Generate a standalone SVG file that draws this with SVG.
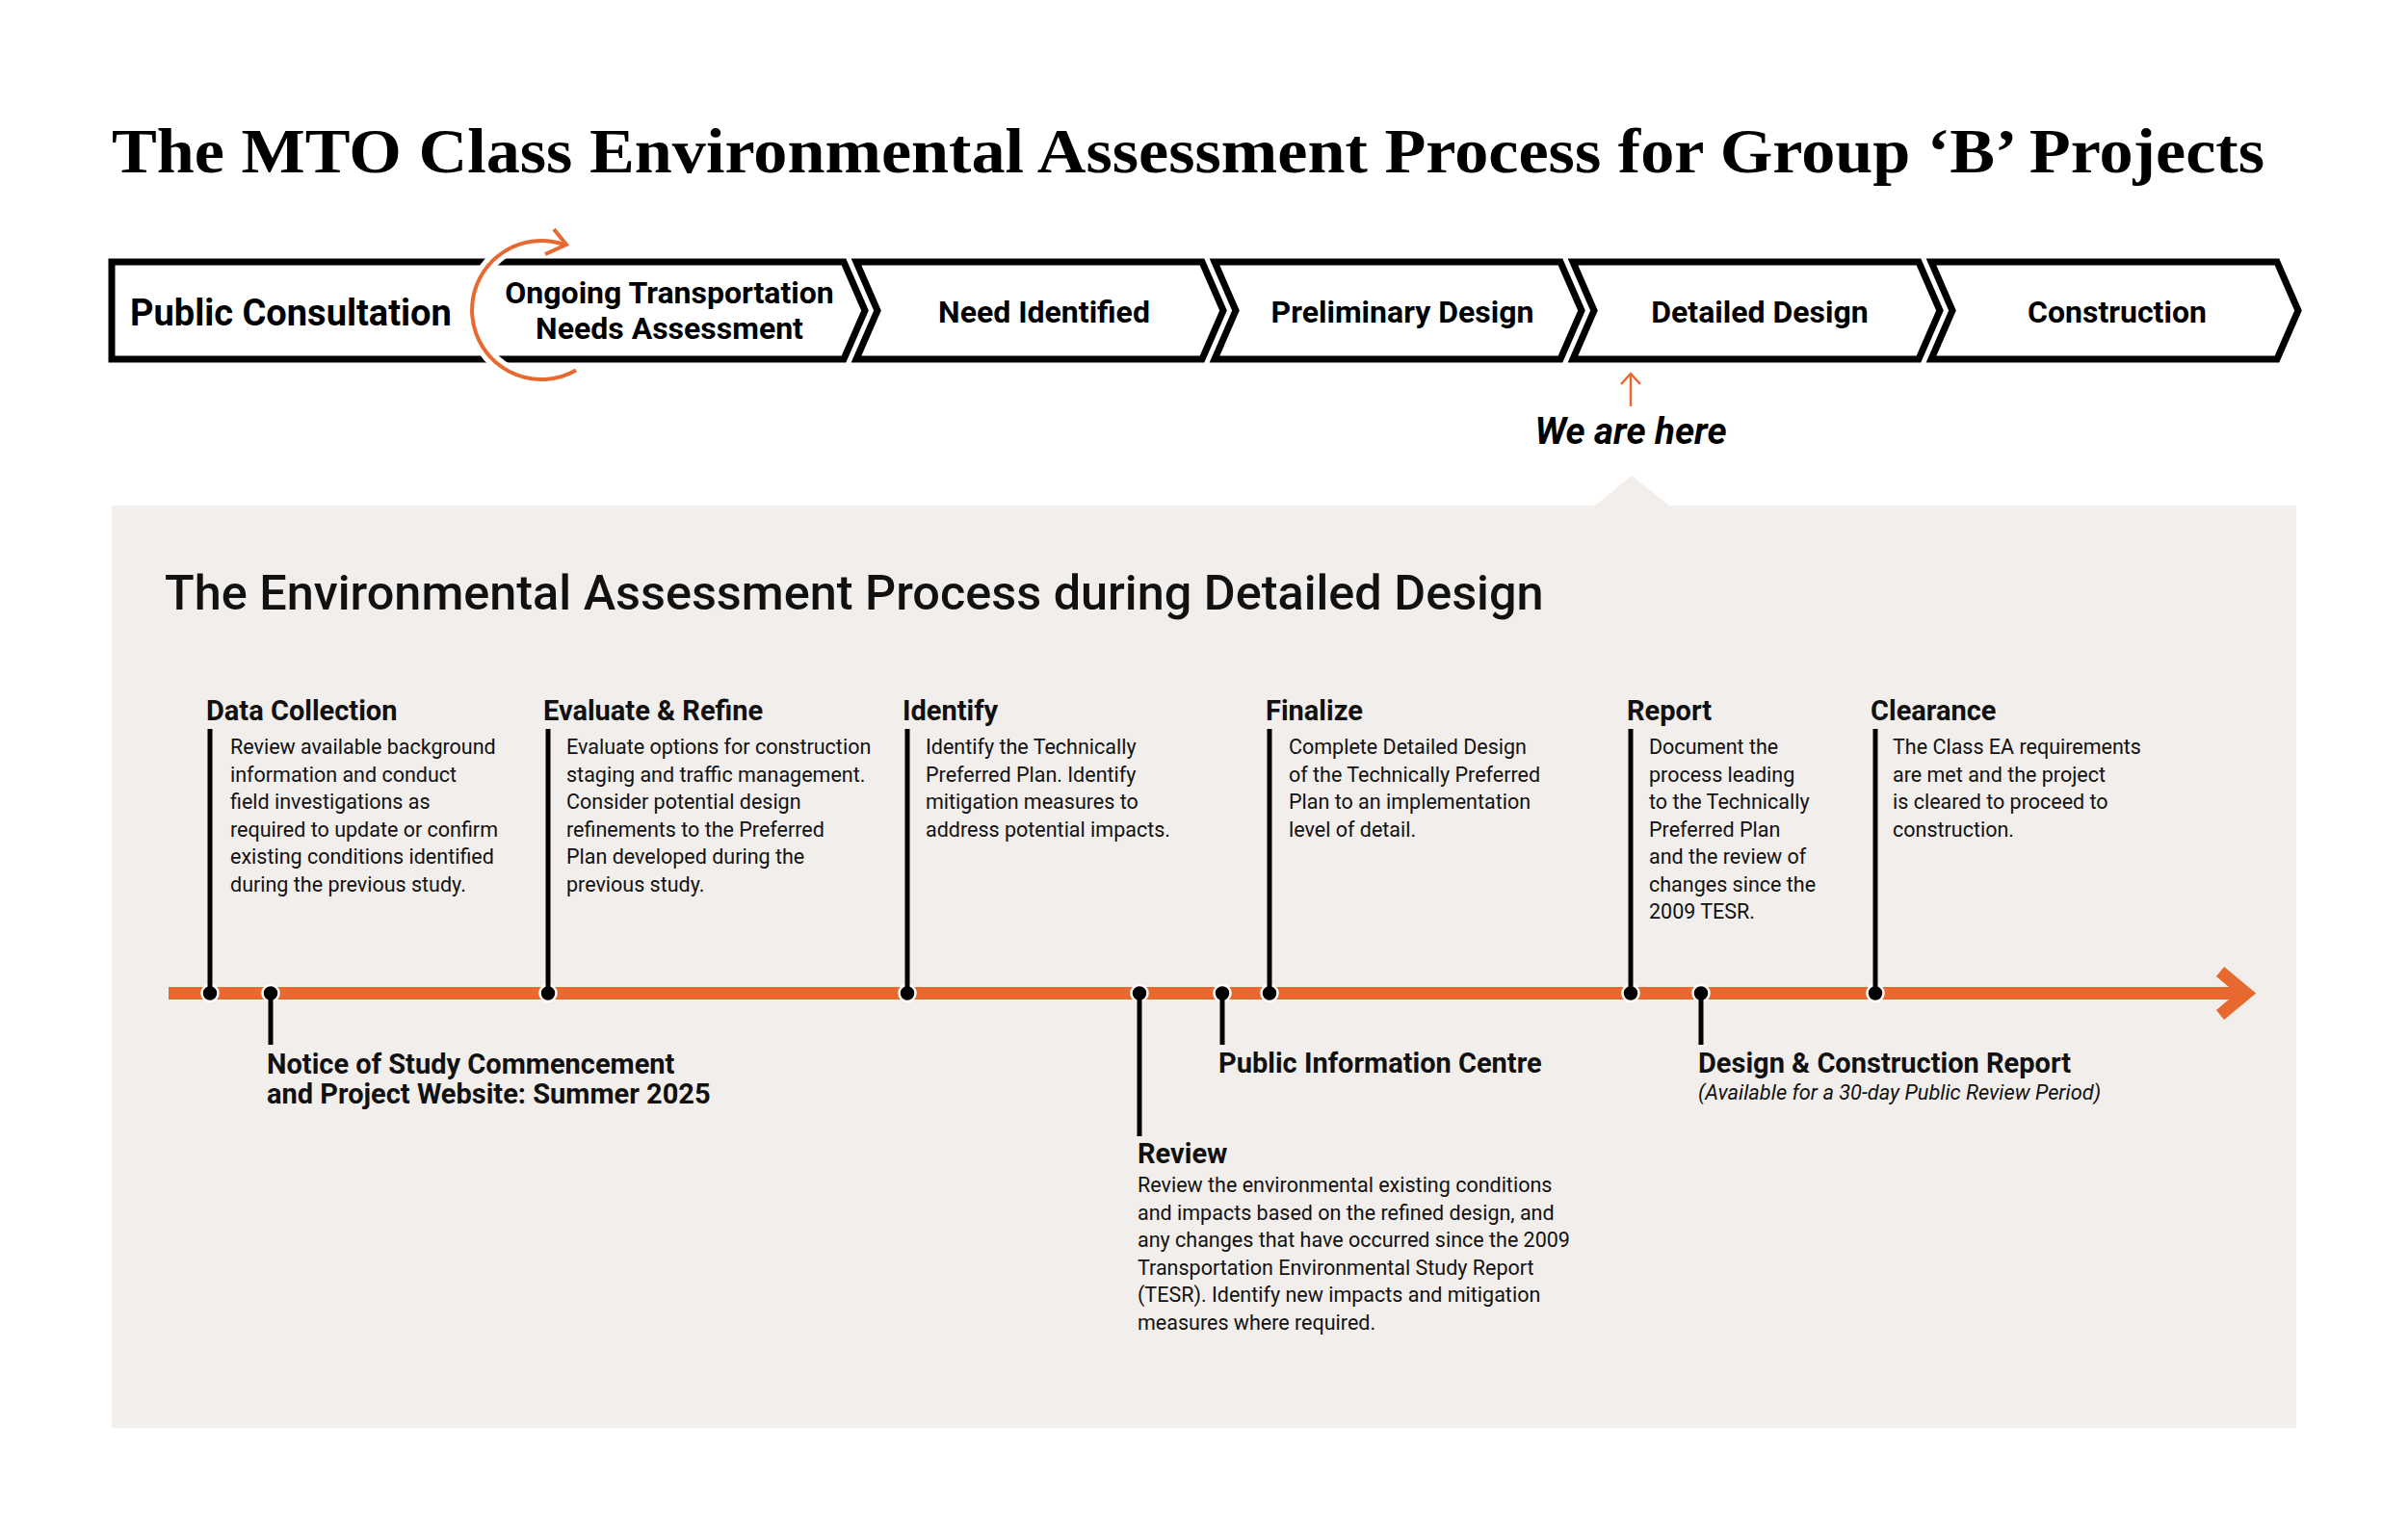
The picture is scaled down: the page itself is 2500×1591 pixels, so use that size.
<svg xmlns="http://www.w3.org/2000/svg" width="2500" height="1591" viewBox="0 0 2500 1591">
<defs>
<style>
.title{font-family:"Liberation Serif","Times New Roman",serif;font-weight:700;fill:#000}
.stage{fill:#fff;stroke:#000;stroke-width:7;stroke-linejoin:miter}
.st{font-family:Roboto,"Liberation Sans",sans-serif;font-weight:700;fill:#000}
.h{font-family:Roboto,"Liberation Sans",sans-serif;font-weight:700;font-size:29px;fill:#111}
.b{font-family:Roboto,"Liberation Sans",sans-serif;font-weight:400;font-size:21.5px;fill:#111}
.i{font-family:Roboto,"Liberation Sans",sans-serif;font-style:italic;font-size:21.8px;fill:#111}
.vl{stroke:#000;stroke-width:5}
.dot{fill:#000;stroke:#fff;stroke-width:2.5}
.org{stroke:#E8692F;fill:none}
</style>
</defs>
<rect width="2500" height="1591" fill="#fff"/>
<text class="title" x="116" y="179" font-size="66" textLength="2235" lengthAdjust="spacingAndGlyphs">The MTO Class Environmental Assessment Process for Group ‘B’ Projects</text>

<g id="stages">
<g id="stage-consultation-needs">
<path class="stage" d="M116,272 L876,272 L898,322.5 L876,373 L116,373 Z"/>
<text class="st" x="135" y="338" font-size="38">Public Consultation</text>
<text class="st" x="695" y="315" font-size="32" text-anchor="middle">Ongoing Transportation</text>
<text class="st" x="695" y="352" font-size="32" text-anchor="middle">Needs Assessment</text>
<path d="M598,384.4 A72,72 0 1 1 585.4,253.9" stroke="#fff" stroke-width="14" fill="none"/>
<path class="org" d="M598,384.4 A72,72 0 1 1 585.4,253.9" stroke-width="4"/>
<polyline class="org" points="575,238 588,254 566,264" stroke-width="4"/>
</g>
<g id="stage-need">
<path class="stage" d="M889,272 L1248,272 L1270,322.5 L1248,373 L889,373 L911,322.5 Z"/>
<text class="st" x="1084" y="335" font-size="32" text-anchor="middle">Need Identified</text>
</g>
<g id="stage-preliminary">
<path class="stage" d="M1261,272 L1620,272 L1642,322.5 L1620,373 L1261,373 L1283,322.5 Z"/>
<text class="st" x="1456" y="335" font-size="32" text-anchor="middle">Preliminary Design</text>
</g>
<g id="stage-detailed">
<path class="stage" d="M1633,272 L1992,272 L2014,322.5 L1992,373 L1633,373 L1655,322.5 Z"/>
<text class="st" x="1827" y="335" font-size="32" text-anchor="middle">Detailed Design</text>
</g>
<g id="stage-construction">
<path class="stage" d="M2005,272 L2364,272 L2386,322.5 L2364,373 L2005,373 L2027,322.5 Z"/>
<text class="st" x="2198" y="335" font-size="32" text-anchor="middle">Construction</text>
</g>
</g>

<g id="we-are-here">
<line class="org" x1="1693" y1="422" x2="1693" y2="390" stroke-width="2.5"/>
<polyline class="org" points="1683,399 1693,388 1703,399" stroke-width="2.5"/>
<text x="1693" y="461" text-anchor="middle" font-family="Roboto,'Liberation Sans',sans-serif" font-weight="700" font-style="italic" font-size="38.5" fill="#000">We are here</text>
</g>

<g id="panel">
<path d="M116,525 L1656,525 L1694,494 L1733,525 L2384,525 L2384,1483 L116,1483 Z" fill="#F1EEEB"/>
<text x="171" y="633" font-family="Roboto,'Liberation Sans',sans-serif" font-weight="500" font-size="50.4" fill="#111">The Environmental Assessment Process during Detailed Design</text>
</g>

<g id="connectors">
<rect x="175" y="1025" width="2150" height="13" fill="#E8692F"/>
<polyline class="org" points="2305,1009 2332,1031.5 2305,1054" stroke-width="13" stroke-linejoin="miter"/>
</g>

<g id="m-data-collection">
<circle class="dot" cx="218" cy="1031.5" r="8.5"/>
<line class="vl" x1="218" y1="757" x2="218" y2="1031"/>
<text class="h" x="214" y="748">Data Collection</text>
<text class="b" x="239" y="783">Review available background</text>
<text class="b" x="239" y="811.5">information and conduct</text>
<text class="b" x="239" y="840">field investigations as</text>
<text class="b" x="239" y="868.5">required to update or confirm</text>
<text class="b" x="239" y="897">existing conditions identified</text>
<text class="b" x="239" y="925.5">during the previous study.</text>
</g>

<g id="m-notice">
<circle class="dot" cx="281" cy="1031.5" r="8.5"/>
<line class="vl" x1="281" y1="1031" x2="281" y2="1085"/>
<text class="h" x="277" y="1115">Notice of Study Commencement</text>
<text class="h" x="277" y="1146">and Project Website: Summer 2025</text>
</g>

<g id="m-evaluate">
<circle class="dot" cx="569" cy="1031.5" r="8.5"/>
<line class="vl" x1="569" y1="757" x2="569" y2="1031"/>
<text class="h" x="564" y="748">Evaluate &amp; Refine</text>
<text class="b" x="588" y="783">Evaluate options for construction</text>
<text class="b" x="588" y="811.5">staging and traffic management.</text>
<text class="b" x="588" y="840">Consider potential design</text>
<text class="b" x="588" y="868.5">refinements to the Preferred</text>
<text class="b" x="588" y="897">Plan developed during the</text>
<text class="b" x="588" y="925.5">previous study.</text>
</g>

<g id="m-identify">
<circle class="dot" cx="942" cy="1031.5" r="8.5"/>
<line class="vl" x1="942" y1="757" x2="942" y2="1031"/>
<text class="h" x="937" y="748">Identify</text>
<text class="b" x="961" y="783">Identify the Technically</text>
<text class="b" x="961" y="811.5">Preferred Plan. Identify</text>
<text class="b" x="961" y="840">mitigation measures to</text>
<text class="b" x="961" y="868.5">address potential impacts.</text>
</g>

<g id="m-review">
<circle class="dot" cx="1183" cy="1031.5" r="8.5"/>
<line class="vl" x1="1183" y1="1031" x2="1183" y2="1180"/>
<text class="h" x="1181" y="1208">Review</text>
<text class="b" x="1181" y="1238">Review the environmental existing conditions</text>
<text class="b" x="1181" y="1266.5">and impacts based on the refined design, and</text>
<text class="b" x="1181" y="1295">any changes that have occurred since the 2009</text>
<text class="b" x="1181" y="1323.5">Transportation Environmental Study Report</text>
<text class="b" x="1181" y="1352">(TESR). Identify new impacts and mitigation</text>
<text class="b" x="1181" y="1380.5">measures where required.</text>
</g>

<g id="m-pic">
<circle class="dot" cx="1269" cy="1031.5" r="8.5"/>
<line class="vl" x1="1269" y1="1031" x2="1269" y2="1085"/>
<text class="h" x="1265" y="1114">Public Information Centre</text>
</g>

<g id="m-finalize">
<circle class="dot" cx="1318" cy="1031.5" r="8.5"/>
<line class="vl" x1="1318" y1="757" x2="1318" y2="1031"/>
<text class="h" x="1314" y="748">Finalize</text>
<text class="b" x="1338" y="783">Complete Detailed Design</text>
<text class="b" x="1338" y="811.5">of the Technically Preferred</text>
<text class="b" x="1338" y="840">Plan to an implementation</text>
<text class="b" x="1338" y="868.5">level of detail.</text>
</g>

<g id="m-report">
<circle class="dot" cx="1693" cy="1031.5" r="8.5"/>
<line class="vl" x1="1693" y1="757" x2="1693" y2="1031"/>
<text class="h" x="1689" y="748">Report</text>
<text class="b" x="1712" y="783">Document the</text>
<text class="b" x="1712" y="811.5">process leading</text>
<text class="b" x="1712" y="840">to the Technically</text>
<text class="b" x="1712" y="868.5">Preferred Plan</text>
<text class="b" x="1712" y="897">and the review of</text>
<text class="b" x="1712" y="925.5">changes since the</text>
<text class="b" x="1712" y="954">2009 TESR.</text>
</g>

<g id="m-dcr">
<circle class="dot" cx="1766" cy="1031.5" r="8.5"/>
<line class="vl" x1="1766" y1="1031" x2="1766" y2="1085"/>
<text class="h" x="1763" y="1114">Design &amp; Construction Report</text>
<text class="i" x="1763" y="1142">(Available for a 30-day Public Review Period)</text>
</g>

<g id="m-clearance">
<circle class="dot" cx="1947" cy="1031.5" r="8.5"/>
<line class="vl" x1="1947" y1="757" x2="1947" y2="1031"/>
<text class="h" x="1942" y="748">Clearance</text>
<text class="b" x="1965" y="783">The Class EA requirements</text>
<text class="b" x="1965" y="811.5">are met and the project</text>
<text class="b" x="1965" y="840">is cleared to proceed to</text>
<text class="b" x="1965" y="868.5">construction.</text>
</g>
</svg>
